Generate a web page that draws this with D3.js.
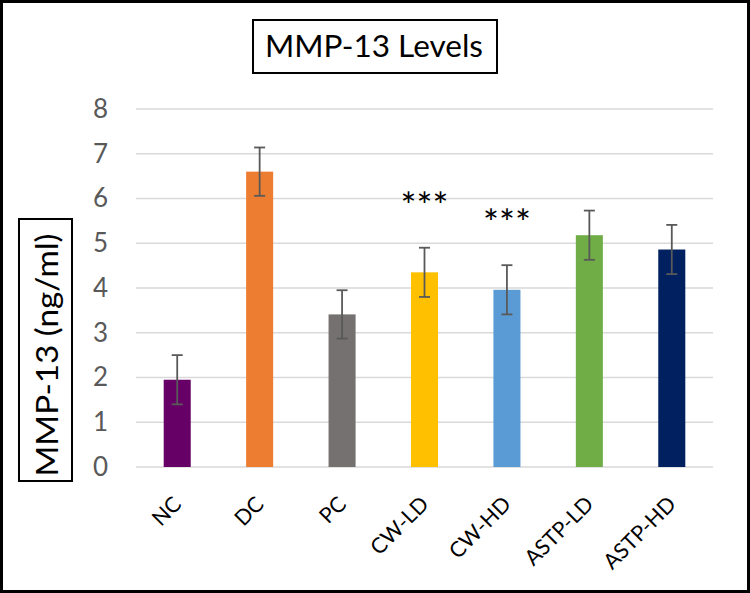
<!DOCTYPE html>
<html>
<head>
<meta charset="utf-8">
<script src="https://cdn.jsdelivr.net/npm/d3@7"></script>
<style>
  body { margin: 0; background: #fff; }
  text { font-family: Lato, "Open Sans", sans-serif; }
</style>
</head>
<body>
<div class="chart"></div>
<script>
// values
var groups = ["NC", "DC", "PC", "CW-LD", "CW-HD", "ASTP-LD", "ASTP-HD"];
var means = [1.95, 6.60, 3.41, 4.35, 3.96, 5.18, 4.86];
var errors = [0.55, 0.54, 0.54, 0.55, 0.55, 0.55, 0.55];
var marks = ["", "", "", "***", "***", "", ""];
var barColors = ["#660066", "#ED7D31", "#767171", "#FFC000", "#5B9BD5", "#70AD47", "#002060"];
var yTicks = [0, 1, 2, 3, 4, 5, 6, 7, 8];

var width = 750,
  height = 593;

var data = groups.map(function(g, i) {
  return {name: g, value: means[i], err: errors[i], mark: marks[i], color: barColors[i]};
});

var svg = d3.select(".chart").append("svg")
  .attr("width", width)
  .attr("height", height);

// outer frame
svg.append("rect")
  .attr("x", 1.5).attr("y", 1.5)
  .attr("width", width - 3).attr("height", height - 3)
  .attr("fill", "#fff")
  .attr("stroke", "#000")
  .attr("stroke-width", 3);

var x = d3.scaleBand()
  .domain(groups)
  .range([136, 713])
  .paddingInner(0.672)
  .paddingOuter(0.336);

var y = d3.scaleLinear()
  .domain([0, 8])
  .range([467, 109]);

// gridlines
svg.append("g")
  .selectAll("line")
  .data(yTicks)
  .enter().append("line")
  .attr("x1", 136).attr("x2", 713)
  .attr("y1", function(d) { return y(d); })
  .attr("y2", function(d) { return y(d); })
  .attr("stroke", "#d9d9d9")
  .attr("stroke-width", 1.4);

// y axis labels
var yAxis = svg.append("g")
  .attr("transform", "translate(108,0)")
  .call(d3.axisLeft(y).tickValues(yTicks).tickSize(0).tickPadding(0));
yAxis.select(".domain").remove();
yAxis.selectAll("text")
  .attr("fill", "#595959")
  .style("font-family", "Lato, sans-serif")
  .style("font-size", "26px");

// bars
svg.append("g")
  .selectAll("rect")
  .data(data)
  .enter().append("rect")
  .attr("x", function(d) { return x(d.name); })
  .attr("y", function(d) { return y(d.value); })
  .attr("width", x.bandwidth())
  .attr("height", function(d) { return y(0) - y(d.value); })
  .attr("fill", function(d) { return d.color; });

// error bars
var eb = svg.append("g")
  .attr("stroke", "#595959")
  .attr("stroke-width", 1.8)
  .selectAll("g")
  .data(data)
  .enter().append("g");

eb.append("line")
  .attr("x1", function(d) { return x(d.name) + x.bandwidth() / 2; })
  .attr("x2", function(d) { return x(d.name) + x.bandwidth() / 2; })
  .attr("y1", function(d) { return y(d.value + d.err); })
  .attr("y2", function(d) { return y(d.value - d.err); });

[1, -1].forEach(function(s) {
  eb.append("line")
    .attr("x1", function(d) { return x(d.name) + x.bandwidth() / 2 - 5.5; })
    .attr("x2", function(d) { return x(d.name) + x.bandwidth() / 2 + 5.5; })
    .attr("y1", function(d) { return y(d.value + s * d.err); })
    .attr("y2", function(d) { return y(d.value + s * d.err); });
});

// significance stars
svg.append("g")
  .selectAll("text")
  .data(data.filter(function(d) { return d.mark; }))
  .enter().append("text")
  .attr("x", function(d) { return x(d.name) + x.bandwidth() / 2; })
  .attr("y", function(d) { return y(d.value + d.err) - 29; })
  .attr("text-anchor", "middle")
  .attr("textLength", 48)
  .attr("lengthAdjust", "spacingAndGlyphs")
  .style("font-size", "36px")
  .attr("fill", "#000")
  .text(function(d) { return d.mark; });

// x labels, rotated
svg.append("g")
  .selectAll("text")
  .data(groups)
  .enter().append("text")
  .attr("transform", function(d) {
    return "translate(" + (x(d) + x.bandwidth() / 2) + ",500) rotate(-45)";
  })
  .attr("text-anchor", "end")
  .attr("dy", "0.36em")
  .style("font-size", "21.5px")
  .attr("fill", "#000")
  .text(function(d) { return d; });

// title box
svg.append("rect")
  .attr("x", 253).attr("y", 20)
  .attr("width", 244).attr("height", 53)
  .attr("fill", "none")
  .attr("stroke", "#000")
  .attr("stroke-width", 2);
svg.append("text")
  .attr("x", 374).attr("y", 57)
  .attr("text-anchor", "middle")
  .attr("textLength", 218)
  .attr("lengthAdjust", "spacingAndGlyphs")
  .style("font-size", "31px")
  .attr("fill", "#000")
  .text("MMP-13 Levels");

// y axis title box
svg.append("rect")
  .attr("x", 19).attr("y", 219)
  .attr("width", 53).attr("height", 262)
  .attr("fill", "none")
  .attr("stroke", "#000")
  .attr("stroke-width", 2);
svg.append("text")
  .attr("transform", "translate(58,355) rotate(-90)")
  .attr("text-anchor", "middle")
  .attr("textLength", 243)
  .attr("lengthAdjust", "spacingAndGlyphs")
  .style("font-size", "30px")
  .attr("fill", "#000")
  .text("MMP-13 (ng/ml)");
</script>
</body>
</html>
